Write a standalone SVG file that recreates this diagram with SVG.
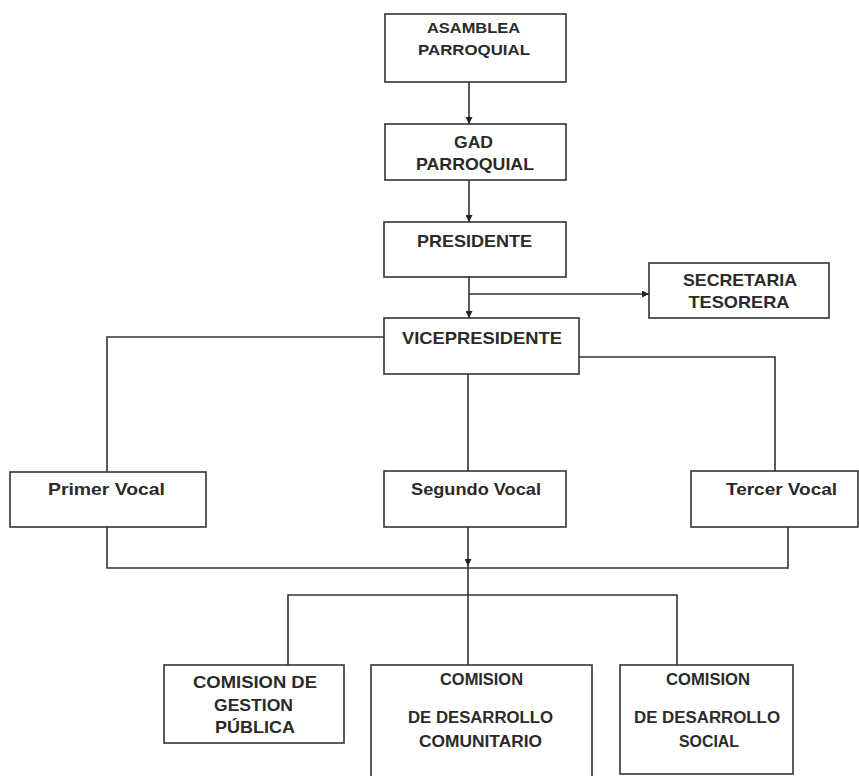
<svg xmlns="http://www.w3.org/2000/svg" width="859" height="776" viewBox="0 0 859 776">
<defs>
<marker id="arr" viewBox="0 0 10 10" refX="10" refY="5" markerWidth="7" markerHeight="7" markerUnits="userSpaceOnUse" orient="auto">
<path d="M0,0 L10,5 L0,10 z" fill="#222"/>
</marker>
<style>
.box{fill:#fff;stroke:#333;stroke-width:1.6}
.ln{fill:none;stroke:#333;stroke-width:1.6}
text{font-family:"Liberation Sans",Arial,sans-serif;font-weight:bold;fill:#2a2a2a;text-anchor:middle}
.s14{font-size:14px}
.s17{font-size:17px}
.s16{font-size:16px}
</style>
</defs>
<rect width="859" height="776" fill="#fff"/>
<g id="connectors">
<line class="ln" x1="469" y1="82" x2="469" y2="124" marker-end="url(#arr)"/>
<line class="ln" x1="469" y1="180" x2="469" y2="222" marker-end="url(#arr)"/>
<line class="ln" x1="469" y1="277" x2="469" y2="318" marker-end="url(#arr)"/>
<line class="ln" x1="469" y1="294" x2="649" y2="294" marker-end="url(#arr)"/>
<path class="ln" d="M384,337 H107 V472"/>
<path class="ln" d="M579,357 H775 V471"/>
<path class="ln" d="M468,374 V471"/>
<path class="ln" d="M107,527 V568 H788 V527"/>
<line class="ln" x1="468" y1="527" x2="468" y2="566" marker-end="url(#arr)"/>
<path class="ln" d="M468,566 V665"/>
<path class="ln" d="M288,665 V595 H677 V665"/>
</g>
<g id="asamblea">
<rect class="box" x="385" y="14" width="181" height="68"/>
<text class="s14" x="473.5" y="33" textLength="93" lengthAdjust="spacingAndGlyphs">ASAMBLEA</text>
<text class="s14" x="474" y="55" textLength="112" lengthAdjust="spacingAndGlyphs">PARROQUIAL</text>
</g>
<g id="gad">
<rect class="box" x="385" y="124" width="181" height="56"/>
<text class="s17" x="473.5" y="148" textLength="39" lengthAdjust="spacingAndGlyphs">GAD</text>
<text class="s17" x="475" y="170" textLength="118" lengthAdjust="spacingAndGlyphs">PARROQUIAL</text>
</g>
<g id="presidente">
<rect class="box" x="384" y="222" width="182" height="55"/>
<text class="s17" x="474.5" y="247" textLength="115" lengthAdjust="spacingAndGlyphs">PRESIDENTE</text>
</g>
<g id="secretaria">
<rect class="box" x="649" y="263" width="180" height="55"/>
<text class="s17" x="740" y="286" textLength="114" lengthAdjust="spacingAndGlyphs">SECRETARIA</text>
<text class="s17" x="739" y="308" textLength="101" lengthAdjust="spacingAndGlyphs">TESORERA</text>
</g>
<g id="vicepresidente">
<rect class="box" x="384" y="318" width="195" height="56"/>
<text class="s17" x="482" y="344" textLength="160" lengthAdjust="spacingAndGlyphs">VICEPRESIDENTE</text>
</g>
<g id="primer-vocal">
<rect class="box" x="10" y="472" width="196" height="55"/>
<text class="s17" x="106.5" y="495" textLength="117" lengthAdjust="spacingAndGlyphs">Primer  Vocal</text>
</g>
<g id="segundo-vocal">
<rect class="box" x="384" y="471" width="182" height="56"/>
<text class="s17" x="476" y="495" textLength="130" lengthAdjust="spacingAndGlyphs">Segundo Vocal</text>
</g>
<g id="tercer-vocal">
<rect class="box" x="691" y="471" width="167" height="56"/>
<text class="s17" x="781.5" y="495" textLength="111" lengthAdjust="spacingAndGlyphs">Tercer Vocal</text>
</g>
<g id="comision-gestion">
<rect class="box" x="164" y="665" width="180" height="78"/>
<text class="s17" x="255" y="688" textLength="124" lengthAdjust="spacingAndGlyphs">COMISION DE</text>
<text class="s17" x="253.5" y="711" textLength="79" lengthAdjust="spacingAndGlyphs">GESTION</text>
<text class="s17" x="255" y="733" textLength="80" lengthAdjust="spacingAndGlyphs">PÚBLICA</text>
</g>
<g id="comision-comunitario">
<rect class="box" x="371" y="665" width="221" height="125"/>
<text class="s16" x="481.5" y="685" textLength="83" lengthAdjust="spacingAndGlyphs">COMISION</text>
<text class="s16" x="480.5" y="723" textLength="145" lengthAdjust="spacingAndGlyphs">DE DESARROLLO</text>
<text class="s16" x="480.5" y="747" textLength="123" lengthAdjust="spacingAndGlyphs">COMUNITARIO</text>
</g>
<g id="comision-social">
<rect class="box" x="620" y="665" width="173" height="109"/>
<text class="s16" x="708" y="685" textLength="84" lengthAdjust="spacingAndGlyphs">COMISION</text>
<text class="s16" x="707" y="723" textLength="146" lengthAdjust="spacingAndGlyphs">DE DESARROLLO</text>
<text class="s16" x="709" y="747" textLength="60" lengthAdjust="spacingAndGlyphs">SOCIAL</text>
</g>
</svg>
